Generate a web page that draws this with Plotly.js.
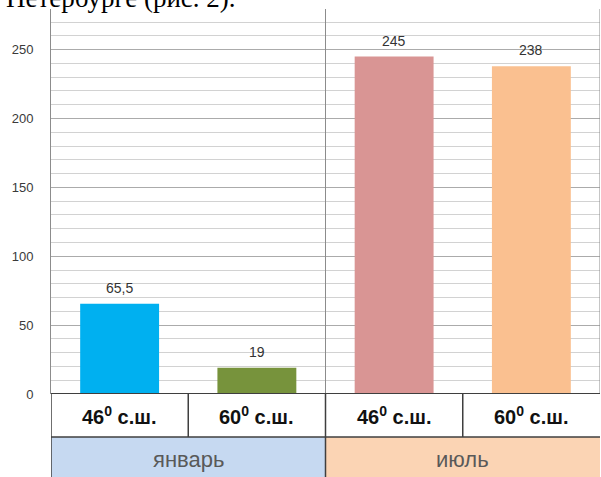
<!DOCTYPE html>
<html>
<head>
<meta charset="utf-8">
<script src="https://cdn.plot.ly/plotly-3.0.1.min.js"></script>
<style>html,body{margin:0;padding:0;background:#fff;}#chart{width:601px;height:477px;}</style>
</head>
<body>
<div id="chart"></div>
<script>
// ---- data ----
const categories = ['46<sup>0</sup> с.ш.', '60<sup>0</sup> с.ш.', '46<sup>0</sup> с.ш.', '60<sup>0</sup> с.ш.'];
const months = ['январь', 'июль'];
const monthOf = [0, 0, 1, 1];
const values = [65.5, 19, 245, 238];
const barColors = ['#00B0F0', '#77933C', '#D99594', '#FAC090'];
const monthFills = ['#C6D9F1', '#FBD4B4'];
const headerText = 'Петербурге (рис. 2).';
const yTicks = [0, 50, 100, 150, 200, 250];

// ---- layout helpers ----
const W = 601, H = 477;
const M = {l: 51, r: 1, t: 9, b: 83};
const plotH = H - M.t - M.b;
const row1 = -43 / plotH;   // bottom of first table row (paper units)
const row2 = -M.b / plotH;  // bottom of figure
const xs = categories.map((c, i) => i);

const trace = {
  type: 'bar',
  x: xs,
  y: values,
  marker: {color: barColors, line: {width: 0}},
  hoverinfo: 'none',
  width: 0.575
};

const shapes = [];
// month fills in second row
months.forEach((m, k) => {
  const idx = xs.filter(i => monthOf[i] === k);
  shapes.push({type: 'rect', xref: 'x', yref: 'paper',
    x0: Math.min(...idx) - 0.5, x1: Math.max(...idx) + 0.5, y0: row2, y1: row1,
    fillcolor: monthFills[k], line: {width: 0}, layer: 'above'});
});
const dark = '#3F3F3F';
const grey = '#8C8C8C';
// horizontal table line
shapes.push({type: 'line', xref: 'x', yref: 'paper', x0: -0.5, x1: xs.length - 0.5, y0: row1, y1: row1, line: {color: dark, width: 1.5}});
// vertical separators in first row between categories
xs.slice(0, -1).forEach(i => {
  if (monthOf[i] === monthOf[i + 1]) {
    shapes.push({type: 'line', xref: 'x', yref: 'paper', x0: i + 0.5, x1: i + 0.5, y0: 0, y1: row1, line: {color: dark, width: 1.5}});
  } else {
    shapes.push({type: 'line', xref: 'x', yref: 'paper', x0: i + 0.5, x1: i + 0.5, y0: 0, y1: 1, line: {color: grey, width: 1}});
    shapes.push({type: 'line', xref: 'x', yref: 'paper', x0: i + 0.5, x1: i + 0.5, y0: row2, y1: 0, line: {color: dark, width: 1.5}});
  }
});
// left and right edges
shapes.push({type: 'line', xref: 'x', yref: 'paper', x0: -0.5, x1: -0.5, y0: row2, y1: 0, line: {color: dark, width: 1.5}});
shapes.push({type: 'line', xref: 'x', yref: 'paper', x0: xs.length - 0.5, x1: xs.length - 0.5, y0: 0, y1: 1, line: {color: grey, width: 1}});
// zero line
shapes.push({type: 'line', xref: 'x', yref: 'y', x0: -0.5, x1: xs.length - 0.5, y0: 0, y1: 0, line: {color: dark, width: 2}});

const annotations = [];
// value labels
values.forEach((v, i) => {
  annotations.push({xref: 'x', yref: 'y', x: i, y: v, yanchor: 'bottom', yshift: 6,
    text: String(v).replace('.', ','), showarrow: false,
    font: {family: 'Liberation Sans, Arial, sans-serif', size: 14, color: '#333333'}});
});
// category labels (row 1)
categories.forEach((c, i) => {
  annotations.push({xref: 'x', yref: 'paper', x: i, y: (0 + row1) / 2, yanchor: 'middle',
    text: '<b>' + c + '</b>', showarrow: false,
    font: {family: 'Liberation Sans, Arial, sans-serif', size: 20, color: '#111111'}});
});
// month labels (row 2)
months.forEach((m, k) => {
  const idx = xs.filter(i => monthOf[i] === k);
  annotations.push({xref: 'x', yref: 'paper', x: (Math.min(...idx) + Math.max(...idx)) / 2, y: (row1 + row2) / 2, yanchor: 'middle', yshift: -2,
    text: m, showarrow: false,
    font: {family: 'Liberation Sans, Arial, sans-serif', size: 22, color: '#595959'}});
});
// cropped document text above chart
annotations.push({xref: 'paper', yref: 'paper', x: 0, y: 1, xanchor: 'left', yanchor: 'bottom',
  xshift: -47, yshift: -6, text: headerText, showarrow: false,
  font: {family: 'Liberation Serif, Times New Roman, serif', size: 27, color: '#000000'}});

const layout = {
  width: W, height: H,
  margin: M,
  paper_bgcolor: '#ffffff', plot_bgcolor: '#ffffff',
  showlegend: false,
  bargap: 0.425,
  xaxis: {range: [-0.5, xs.length - 0.5], showticklabels: false, showgrid: false, zeroline: false, showline: false, fixedrange: true},
  yaxis: {
    range: [0, 279.5],
    tickvals: yTicks,
    ticktext: yTicks.map(String),
    showgrid: true, gridcolor: '#ABABAB', gridwidth: 1,
    minor: {dtick: 10, tick0: 0, showgrid: true, gridcolor: '#D2D2D2', gridwidth: 1},
    zeroline: false,
    showline: true, linecolor: grey, linewidth: 1,
    ticks: '', ticklabelstandoff: 14,
    tickfont: {family: 'Liberation Sans, Arial, sans-serif', size: 13, color: '#3A3A3A'},
    fixedrange: true
  },
  shapes: shapes,
  annotations: annotations
};

Plotly.newPlot('chart', [trace], layout, {displayModeBar: false, staticPlot: true});
</script>
</body>
</html>
